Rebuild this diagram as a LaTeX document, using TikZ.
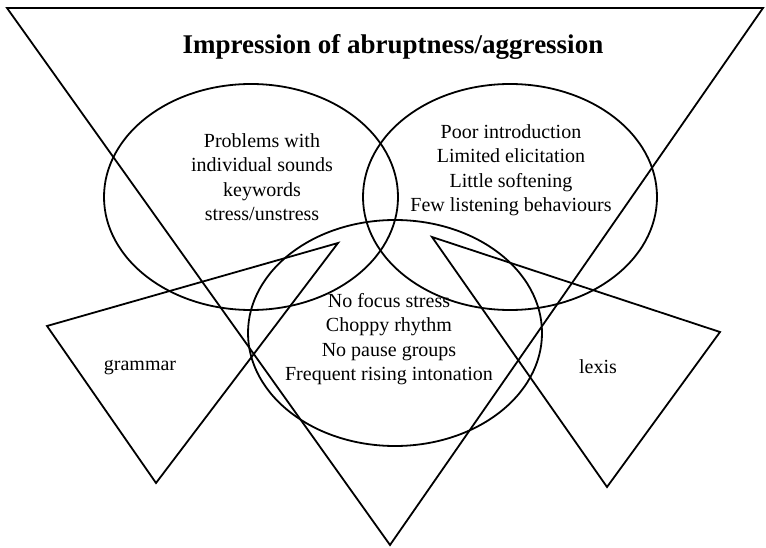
\documentclass[tikz,border=0pt]{standalone}
\usepackage{fontspec}
\setmainfont{Liberation Serif}
\usetikzlibrary{shapes.geometric}

\begin{document}
\begin{tikzpicture}[x=1pt, y=-1pt, line width=1.8pt, line join=miter,
    venn/.style={ellipse, draw, inner sep=0pt, minimum width=294pt, minimum height=226pt},
    lbl/.style={align=center, inner sep=0pt, font=\fontsize{20}{24.5}\selectfont}]
    \useasboundingbox (0,0) rectangle (766,548);

    % Define corners of the triangles
    \coordinate (t1) at (7,8);
    \coordinate (t2) at (763,8);
    \coordinate (t3) at (390,545);
    \coordinate (g1) at (47,326);
    \coordinate (g2) at (338,243);
    \coordinate (g3) at (156,483);
    \coordinate (l1) at (432,237);
    \coordinate (l2) at (720,332);
    \coordinate (l3) at (607,487);

    % Draw triangles
    \draw (t1) -- (t2) -- (t3) -- cycle; % outer triangle
    \draw (g1) -- (g2) -- (g3) -- cycle; % grammar
    \draw (l1) -- (l2) -- (l3) -- cycle; % lexis

    % Define circles
    \node[venn] (pron) at (251,197) {};
    \node[venn] (disc) at (510,197) {};
    \node[venn] (pros) at (395,333) {};

    % Texts
    \node[font=\bfseries\fontsize{27}{32}\selectfont] (title) at (393,47) {Impression of abruptness/aggression};
    \node[lbl] (prontxt) at (262,177) {Problems with\\individual sounds\\keywords\\stress/unstress};
    \node[lbl] (disctxt) at (511,170) {Poor introduction\\Limited elicitation\\Little softening\\Few listening behaviours};
    \node[lbl] (prostxt) at (389,339) {No focus stress\\Choppy rhythm\\No pause groups\\Frequent rising intonation};
    \node[lbl] (gram) at (140,368) {grammar};
    \node[lbl] (lex) at (598,367) {lexis};
\end{tikzpicture}
\end{document}
